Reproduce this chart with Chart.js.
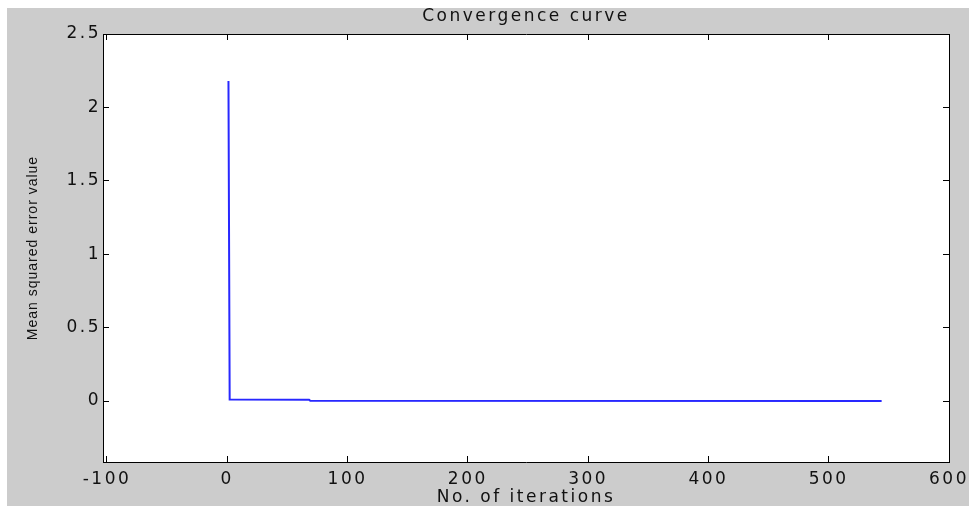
<!DOCTYPE html>
<html>
<head>
<meta charset="utf-8">
<script src="https://cdn.jsdelivr.net/npm/chart.js@4/dist/chart.umd.min.js"></script>
<style>
  html, body { margin: 0; padding: 0; background: #fff; }
  #frame { position: absolute; left: 7px; top: 8px; width: 962px; height: 498px; background: #cccccc; }
  #chart { display: block; }
</style>
</head>
<body>
<div id="frame"><canvas id="chart" width="962" height="498"></canvas></div>
<script>
'use strict';

/* ── data ── */
const iterations = [1, 2, 68, 69, 544];
const mse = [2.18, 0.010, 0.009, 0.002, 0.001];
const xTicks = [-100, 0, 100, 200, 300, 400, 500, 600];
const yTicks = [0, 0.5, 1, 1.5, 2, 2.5];
const xRange = [-103.3, 600];
const yRange = [-0.415, 2.5];
const yTitle = 'Mean squared error value';

const FONT = 'DejaVu Sans';
const INK = '#111';
const tickMarks = list => s => { s.ticks = list.map(v => ({ value: v })); };

/* ── matlab look: white axes box, wide text, narrow y label ── */
const matlabLook = {
  id: 'matlabLook',
  beforeLayout(c) { c.ctx.letterSpacing = '2.5px'; },
  beforeDraw(c) {
    const { ctx, chartArea: a } = c;
    ctx.letterSpacing = '2.5px';
    ctx.save();
    ctx.fillStyle = '#fff';
    ctx.fillRect(a.left, a.top, a.right - a.left, a.bottom - a.top);
    ctx.restore();
  },
  afterDraw(c) {
    const { ctx, chartArea: a } = c;
    ctx.save();
    ctx.letterSpacing = '1px';
    ctx.font = '14px "Liberation Sans"';
    ctx.fillStyle = INK;
    ctx.textAlign = 'center';
    ctx.textBaseline = 'middle';
    ctx.translate(26, (a.top + a.bottom) / 2);
    ctx.rotate(-Math.PI / 2);
    ctx.fillText(yTitle, 0, 0);
    ctx.restore();
  }
};

const boxGrid = { drawOnChartArea: false, drawTicks: true, tickLength: -6, color: '#000', lineWidth: 1 };
const boxBorder = { color: '#000', width: 1 };

new Chart(document.getElementById('chart'), {
  type: 'line',
  data: {
    datasets: [{
      data: iterations.map((x, i) => ({ x, y: mse[i] })),
      borderColor: 'rgb(40,40,255)',
      borderWidth: 2,
      pointRadius: 0,
      tension: 0,
      fill: false
    }]
  },
  options: {
    responsive: false,
    animation: false,
    devicePixelRatio: 1,
    layout: { padding: { left: 0, top: 0, right: 20, bottom: 0 } },
    plugins: {
      legend: { display: false },
      tooltip: { enabled: false },
      title: {
        display: true,
        fullSize: false,
        text: 'Convergence curve',
        color: INK,
        font: { family: FONT, size: 17, weight: 'normal', lineHeight: 1 },
        padding: { top: 0, bottom: 9 }
      }
    },
    scales: {
      x: {
        type: 'linear', position: 'bottom',
        min: xRange[0], max: xRange[1],
        afterBuildTicks: tickMarks(xTicks),
        afterFit: s => { s.height = 44; s.paddingLeft = 0; s.paddingRight = 0; },
        grid: boxGrid, border: boxBorder,
        ticks: { color: INK, font: { family: FONT, size: 17 }, padding: 13, maxRotation: 0, autoSkip: false },
        title: { display: true, text: 'No. of iterations', color: INK, font: { family: FONT, size: 17, lineHeight: 1 }, padding: { top: 0, bottom: 0 } }
      },
      x2: {
        type: 'linear', position: 'top',
        min: xRange[0], max: xRange[1],
        afterBuildTicks: tickMarks(xTicks),
        afterFit: s => { s.height = 0; s.paddingLeft = 0; s.paddingRight = 0; },
        grid: boxGrid, border: boxBorder,
        ticks: { display: false }
      },
      y: {
        type: 'linear', position: 'left',
        min: yRange[0], max: yRange[1],
        afterBuildTicks: tickMarks(yTicks),
        afterFit: s => { s.width = 96; },
        grid: boxGrid, border: boxBorder,
        ticks: { color: INK, font: { family: FONT, size: 17 }, padding: 8, callback: v => String(v) }
      },
      y2: {
        type: 'linear', position: 'right',
        min: yRange[0], max: yRange[1],
        afterBuildTicks: tickMarks(yTicks),
        afterFit: s => { s.width = 0; },
        grid: boxGrid, border: boxBorder,
        ticks: { display: false }
      }
    }
  },
  plugins: [matlabLook]
});
</script>
</body>
</html>
